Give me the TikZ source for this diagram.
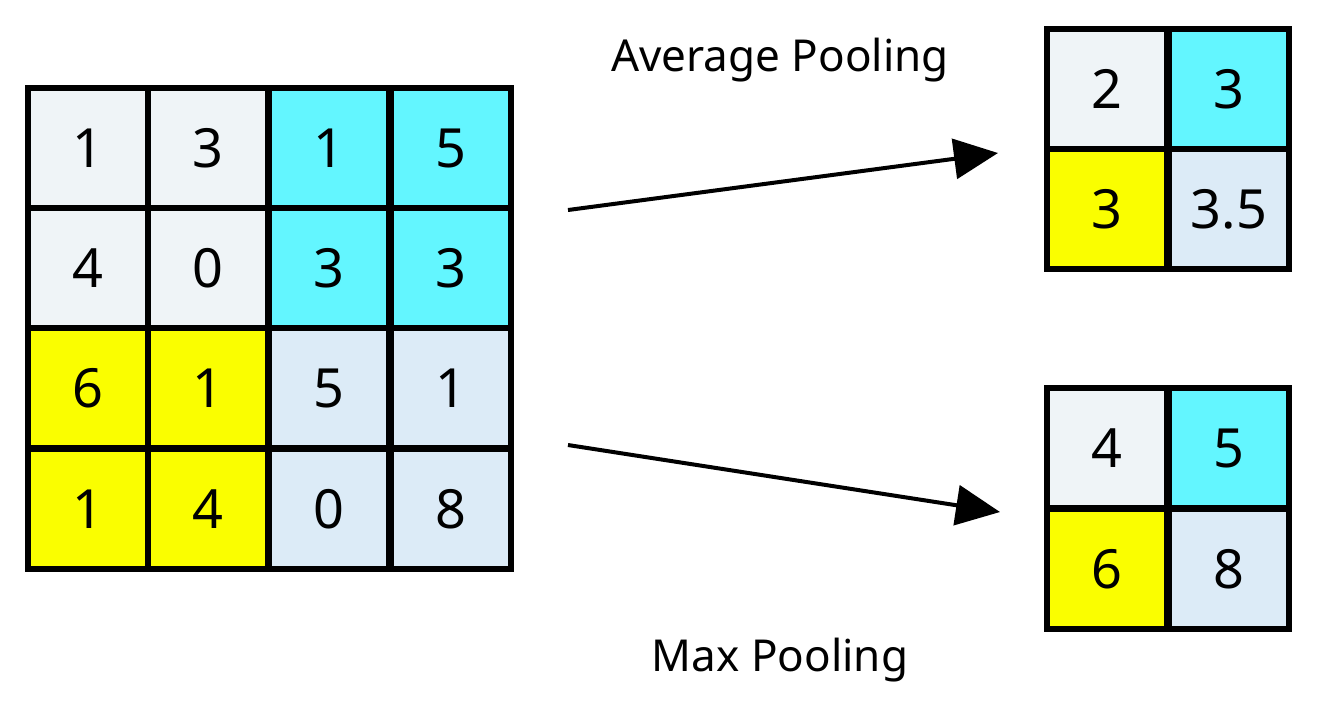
\documentclass[tikz,border=0pt]{standalone}
\usepackage{fontspec}
\setmainfont{Noto Sans}
\usepackage{xcolor}
\usetikzlibrary{arrows.meta}

\definecolor{cellgray}{HTML}{EFF4F7}
\definecolor{cellcyan}{HTML}{63F6FF}
\definecolor{cellyellow}{HTML}{FAFE00}
\definecolor{cellblue}{HTML}{DCEBF7}

\tikzset{
	cell/.style={draw=black, line width=2pt, minimum size=59pt, inner sep=0pt,
		font=\fontsize{27}{30}\selectfont},
	title/.style={font=\fontsize{22}{26}\selectfont},
	pool/.style={-{Triangle[length=22pt, width=20pt]}, line width=2pt}
}

\begin{document}
\begin{tikzpicture}[x=0.5pt, y=-0.5pt]

	\useasboundingbox (0,0) rectangle (1320,720);

	% input feature map
	\node[cell, fill=cellgray] (in11) at (88,148) {1};
	\node[cell, fill=cellgray] (in12) at (208,148) {3};
	\node[cell, fill=cellcyan] (in13) at (329,148) {1};
	\node[cell, fill=cellcyan] (in14) at (451,148) {5};

	\node[cell, fill=cellgray] (in21) at (88,268) {4};
	\node[cell, fill=cellgray] (in22) at (208,268) {0};
	\node[cell, fill=cellcyan] (in23) at (329,268) {3};
	\node[cell, fill=cellcyan] (in24) at (451,268) {3};

	\node[cell, fill=cellyellow] (in31) at (88,388) {6};
	\node[cell, fill=cellyellow] (in32) at (208,388) {1};
	\node[cell, fill=cellblue] (in33) at (329,388) {5};
	\node[cell, fill=cellblue] (in34) at (451,388) {1};

	\node[cell, fill=cellyellow] (in41) at (88,509) {1};
	\node[cell, fill=cellyellow] (in42) at (208,509) {4};
	\node[cell, fill=cellblue] (in43) at (329,509) {0};
	\node[cell, fill=cellblue] (in44) at (451,509) {8};

	% outer frame
	\draw[line width=2.4pt] (in11.north west) rectangle (in44.south east);

	% average pooling result
	\node[cell, fill=cellgray] (avg11) at (1107,89) {2};
	\node[cell, fill=cellcyan] (avg12) at (1229,89) {3};
	\node[cell, fill=cellyellow] (avg21) at (1107,209) {3};
	\node[cell, fill=cellblue] (avg22) at (1229,209) {3.5};
	\draw[line width=2.4pt] (avg11.north west) rectangle (avg22.south east);

	% max pooling result
	\node[cell, fill=cellgray] (max11) at (1107,448) {4};
	\node[cell, fill=cellcyan] (max12) at (1229,448) {5};
	\node[cell, fill=cellyellow] (max21) at (1107,569) {6};
	\node[cell, fill=cellblue] (max22) at (1229,569) {8};
	\draw[line width=2.4pt] (max11.north west) rectangle (max22.south east);

	% Text nodes
	\node[title] (avgtitle) at (780,60) {Average Pooling};
	\node[title] (maxtitle) at (780,660) {Max Pooling};

	% Arrows
	\coordinate (avgfrom) at (568,210);
	\coordinate (avgto) at (998,153);
	\coordinate (maxfrom) at (568,445);
	\coordinate (maxto) at (1000,512);
	\draw[pool] (avgfrom) -- (avgto);
	\draw[pool] (maxfrom) -- (maxto);
\end{tikzpicture}
\end{document}
